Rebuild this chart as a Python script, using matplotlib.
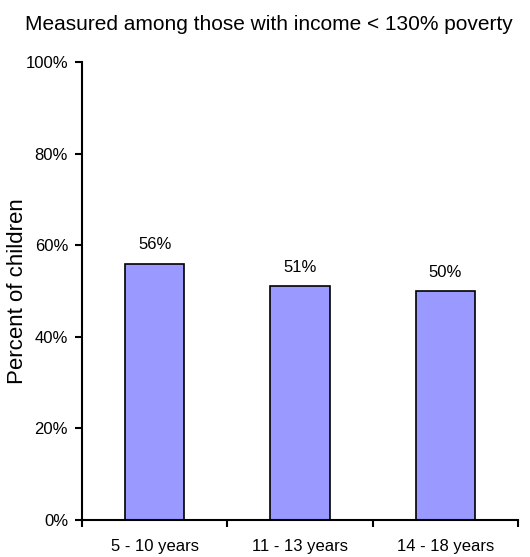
import matplotlib
matplotlib.use("Agg")
import matplotlib.pyplot as plt
from matplotlib.ticker import FixedLocator, PercentFormatter

categories = ["5 - 10 years", "11 - 13 years", "14 - 18 years"]
values = [56, 51, 50]
labels = ["56%", "51%", "50%"]
yticks = [0, 20, 40, 60, 80, 100]

plt.rcParams['font.family'] = ['Liberation Sans', 'DejaVu Sans']

W, H = 530, 557
fig = plt.figure(figsize=(W / 100, H / 100), dpi=100)
ax = fig.add_axes([82 / W, 1 - 520 / H, (518 - 82) / W, (520 - 62) / H])

x = list(range(len(categories)))
ax.bar(x, values, width=0.41, color="#9999FF", edgecolor="black", linewidth=1.2, zorder=2)
for xi, v, lab in zip(x, values, labels):
    ax.annotate(lab, (xi, v), xytext=(0, 13.5), textcoords="offset points",
                ha="center", va="center", fontsize=12)

ax.set_xlim(-0.5, len(categories) - 0.5)
ax.set_ylim(0, 100)
ax.set_yticks(yticks)
ax.yaxis.set_major_formatter(PercentFormatter(decimals=0))
ax.set_xticks(x)
ax.set_xticklabels(categories, fontsize=12)
ax.xaxis.set_minor_locator(FixedLocator([i - 0.5 for i in range(len(categories) + 1)]))
ax.tick_params(axis="x", which="major", length=0, pad=14)
ax.tick_params(axis="x", which="minor", length=5, width=1.5, direction="out")
ax.tick_params(axis="y", length=5, width=1.5, direction="out", labelsize=12, pad=5)

for s in ["top", "right"]:
    ax.spines[s].set_visible(False)
for s in ["left", "bottom"]:
    ax.spines[s].set_linewidth(1.5)

fig.text(18 / W, 1 - 291 / H, "Percent of children", rotation=90,
         ha="center", va="center", fontsize=16)
fig.text(269 / W, 1 - 25 / H, "Measured among those with income < 130% poverty",
         ha="center", va="center", fontsize=15)

fig.savefig("out.png", dpi=100)
